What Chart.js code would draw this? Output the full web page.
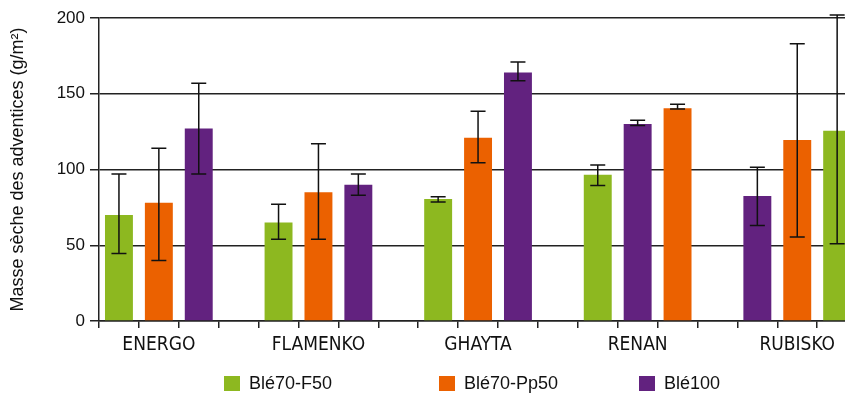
<!DOCTYPE html>
<html>
<head>
<meta charset="utf-8">
<script src="https://cdn.jsdelivr.net/npm/chart.js@4.4.1/dist/chart.umd.min.js"></script>
<style>
  html, body { margin: 0; padding: 0; background: #ffffff; }
  #wrap { position: relative; width: 845px; height: 394px; overflow: hidden; background: #fff; }
  #c { position: absolute; left: 0; top: 0; }
  #legend { position: absolute; top: 373px; left: 224px; display: flex; font-family: 'Liberation Sans', Arial, sans-serif; font-size: 18px; color: #111; }
  #legend .item { display: flex; align-items: center; height: 20px; }
  #legend .item:nth-child(1) { width: 215px; }
  #legend .item:nth-child(2) { width: 200px; }
  #legend .box { width: 16px; height: 15px; margin-right: 9px; flex: none; }
</style>
</head>
<body>
<div id="wrap">
  <canvas id="c" width="897" height="394"></canvas>
  <div id="legend"></div>
</div>
<script>
// ---- data ----
const categories = ['ENERGO', 'FLAMENKO', 'GHAYTA', 'RENAN', 'RUBISKO'];
const seriesNames = ['Blé70-F50', 'Blé70-Pp50', 'Blé100'];
const seriesColors = ['#8DB820', '#EB6100', '#62227F'];

const f50   = [70, 65, 80.5, 96.5, 125.5];
const pp50  = [78, 85, 121, 140.5, 119.5];
const b100  = [127, 90, 164, 130, 82.5];

const f50Low   = [44.5, 54, 78.5, 89.5, 51];
const f50High  = [97, 77, 82, 103, 202];
const pp50Low  = [40, 54, 104.5, 140, 55.5];
const pp50High = [114, 117, 138.5, 143, 183];
const b100Low  = [97, 83, 158.5, 129, 63];
const b100High = [157, 97, 171, 132.5, 101.5];

// order of the series (index into seriesNames) inside each category group
const barOrder = [[0, 1, 2], [0, 1, 2], [0, 1, 2], [0, 2, 1], [2, 1, 0]];

const yTicks = [0, 50, 100, 150, 200];

// ---- build slot-based structure (3 bars + 1 gap per category) ----
const values = [f50, pp50, b100];
const lows = [f50Low, pp50Low, b100Low];
const highs = [f50High, pp50High, b100High];
const slotsPerGroup = 4;
const nSlots = categories.length * slotsPerGroup;
const slotLabels = [];
for (let c = 0; c < categories.length; c++) {
  for (let s = 0; s < slotsPerGroup; s++) slotLabels.push(s === 1 ? categories[c] : '');
}
const datasets = seriesNames.map((name, si) => {
  const data = new Array(nSlots).fill(null);
  const lo = new Array(nSlots).fill(null);
  const hi = new Array(nSlots).fill(null);
  categories.forEach((cat, ci) => {
    const pos = barOrder[ci].indexOf(si);
    const idx = ci * slotsPerGroup + pos;
    data[idx] = values[si][ci];
    lo[idx] = lows[si][ci];
    hi[idx] = highs[si][ci];
  });
  return {
    label: name, data, errLow: lo, errHigh: hi,
    backgroundColor: seriesColors[si], borderWidth: 0,
    barPercentage: 0.7, categoryPercentage: 1.0, grouped: false
  };
});

const errorBars = {
  id: 'errorBars',
  afterDatasetsDraw(chart) {
    const ctx = chart.ctx;
    const yScale = chart.scales.y;
    ctx.save();
    ctx.strokeStyle = '#111';
    ctx.lineWidth = 1.5;
    chart.data.datasets.forEach((ds, i) => {
      const meta = chart.getDatasetMeta(i);
      meta.data.forEach((bar, j) => {
        if (ds.errLow[j] == null) return;
        const x = bar.x;
        const yl = yScale.getPixelForValue(ds.errLow[j]);
        const yh = yScale.getPixelForValue(ds.errHigh[j]);
        const cap = 7.5;
        ctx.beginPath();
        ctx.moveTo(x, yl); ctx.lineTo(x, yh);
        ctx.moveTo(x - cap, yl); ctx.lineTo(x + cap, yl);
        ctx.moveTo(x - cap, yh); ctx.lineTo(x + cap, yh);
        ctx.stroke();
      });
    });
    ctx.restore();
  }
};

const narrow = "'Liberation Sans Narrow', 'Arial Narrow', 'DejaVu Sans Condensed', sans-serif";
const regular = "'Liberation Sans', Arial, sans-serif";

const chart = new Chart(document.getElementById('c'), {
  type: 'bar',
  data: { labels: slotLabels, datasets },
  options: {
    responsive: false,
    animation: false,
    layout: { padding: { top: 18, left: 0, right: 0, bottom: 0 } },
    plugins: { legend: { display: false }, tooltip: { enabled: false } },
    scales: {
      x: {
        grid: { display: true, drawOnChartArea: false, drawTicks: true, tickLength: 7, color: '#222', lineWidth: 1.5, offset: true },
        border: { display: true, color: '#222', width: 1.5 },
        ticks: { autoSkip: false, maxRotation: 0, minRotation: 0, padding: 6, color: '#111', font: { family: narrow, size: 19 } },
        afterFit(s) { s.height = 73; }
      },
      y: {
        min: 0, max: 200,
        afterBuildTicks(s) { s.ticks = yTicks.map(v => ({ value: v })); },
        ticks: { padding: 5, color: '#111', font: { family: regular, size: 17 } },
        grid: { color: '#222', lineWidth: 1.5, tickLength: 9 },
        border: { color: '#222', width: 1.5 },
        title: { display: true, text: 'Masse sèche des adventices (g/m²)', color: '#111', font: { family: regular, size: 18 }, padding: { top: 7, bottom: 0 } },
        afterFit(s) { s.width = 99; }
      }
    }
  },
  plugins: [errorBars]
});

// HTML legend built from the chart's datasets
const legendEl = document.getElementById('legend');
chart.data.datasets.forEach(ds => {
  const item = document.createElement('div');
  item.className = 'item';
  const box = document.createElement('span');
  box.className = 'box';
  box.style.background = ds.backgroundColor;
  const txt = document.createElement('span');
  txt.textContent = ds.label;
  item.appendChild(box); item.appendChild(txt);
  legendEl.appendChild(item);
});
</script>
</body>
</html>
